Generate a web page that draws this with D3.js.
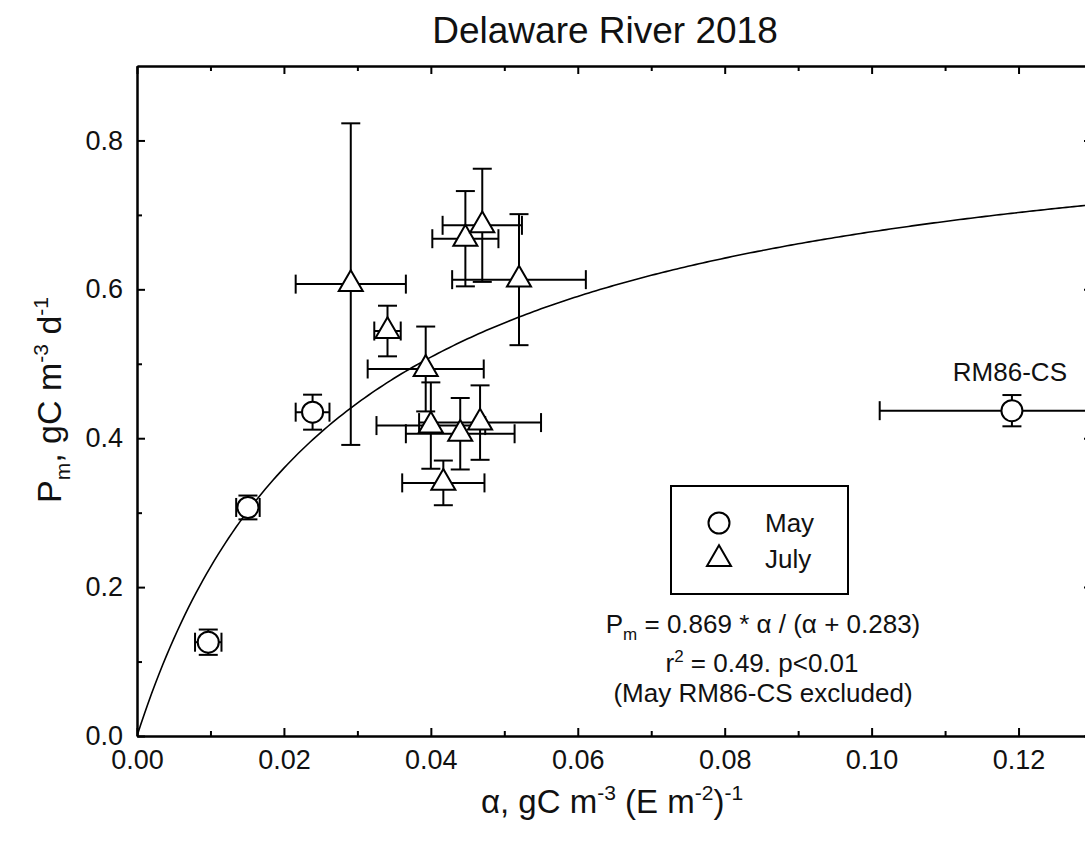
<!DOCTYPE html>
<html>
<head>
<meta charset="utf-8">
<title>Delaware River 2018</title>
<script src="https://cdn.jsdelivr.net/npm/d3@7"></script>
<style>
    body { margin: 0; background: #fff; }
    svg { display: block; }
    text { font-family: "Liberation Sans", Arial, sans-serif; fill: #111; }
    .axis path, .axis line { stroke: #000; stroke-width: 2; }
    .axis text { font-size: 27px; fill: #111; font-family: "Liberation Sans", Arial, sans-serif; }
</style>
</head>
<body>
<svg id="diagram" width="1085" height="845"></svg>
<script>
// May stations (last one is RM86-CS, left out of the fit)
var mayAlpha = [0.0097, 0.0151, 0.0239, 0.1191];
var mayAlphaErr = [0.0018, 0.0016, 0.0023, 0.018];
var mayPm = [0.126, 0.307, 0.435, 0.437];
var mayPmErr = [0.017, 0.016, 0.0235, 0.021];

// July stations
var julyAlpha = [0.0291, 0.0341, 0.0393, 0.0400, 0.0440, 0.0467, 0.0417, 0.0447, 0.0470, 0.0520];
var julyAlphaErr = [0.0075, 0.0018, 0.0079, 0.0074, 0.0074, 0.0083, 0.0056, 0.0045, 0.0054, 0.0091];
var julyPm = [0.607, 0.544, 0.493, 0.417, 0.406, 0.421, 0.340, 0.668, 0.686, 0.613];
var julyPmErr = [0.216, 0.034, 0.057, 0.058, 0.048, 0.050, 0.030, 0.064, 0.076, 0.088];

// fit line Pm = a * alpha / (alpha + k)
var fitA = 0.869;
var fitK = 0.0283;

var xTicks = [0, 0.02, 0.04, 0.06, 0.08, 0.10, 0.12];
var xMinorTicks = [0.01, 0.03, 0.05, 0.07, 0.09, 0.11];
var yTicks = [0, 0.2, 0.4, 0.6, 0.8];
var yMinorTicks = [0.1, 0.3, 0.5, 0.7];

var svg = d3.select("#diagram");
var plotLeft = 137, plotRight = 1092, plotTop = 66, plotBottom = 736;
var width = plotRight - plotLeft, height = plotBottom - plotTop;

var xScale = d3.scaleLinear().domain([0, 0.13]).range([0, width]);
var yScale = d3.scaleLinear().domain([0, 0.9]).range([height, 0]);

var g = svg.append("g").attr("transform", "translate(" + plotLeft + "," + plotTop + ")");

// title
svg.append("text")
    .attr("x", 605).attr("y", 43)
    .attr("text-anchor", "middle")
    .style("font-size", "37px")
    .text("Delaware River 2018");

// axes, ticks pointing inward
g.append("g").attr("class", "axis")
    .attr("transform", "translate(0," + height + ")")
    .call(d3.axisBottom(xScale).tickValues(xTicks).tickSize(-8).tickSizeOuter(0).tickPadding(14)
        .tickFormat(d3.format(".2f")));
g.append("g").attr("class", "axis")
    .attr("transform", "translate(0," + height + ")")
    .call(d3.axisBottom(xScale).tickValues(xMinorTicks).tickSize(-5).tickSizeOuter(0).tickFormat(""));
g.append("g").attr("class", "axis")
    .call(d3.axisTop(xScale).tickValues(xTicks).tickSize(-8).tickSizeOuter(0).tickFormat(""));
g.append("g").attr("class", "axis")
    .call(d3.axisTop(xScale).tickValues(xMinorTicks).tickSize(-5).tickSizeOuter(0).tickFormat(""));

g.append("g").attr("class", "axis")
    .call(d3.axisLeft(yScale).tickValues(yTicks).tickSize(-8).tickSizeOuter(0).tickPadding(14)
        .tickFormat(d3.format(".1f")));
g.append("g").attr("class", "axis")
    .call(d3.axisLeft(yScale).tickValues(yMinorTicks).tickSize(-5).tickSizeOuter(0).tickFormat(""));
g.append("g").attr("class", "axis")
    .attr("transform", "translate(" + width + ",0)")
    .call(d3.axisRight(yScale).tickValues(yTicks).tickSize(-8).tickSizeOuter(0).tickFormat(""));
g.append("g").attr("class", "axis")
    .attr("transform", "translate(" + width + ",0)")
    .call(d3.axisRight(yScale).tickValues(yMinorTicks).tickSize(-5).tickSizeOuter(0).tickFormat(""));

// axis titles
var xTitle = svg.append("text")
    .attr("x", 612).attr("y", 813)
    .attr("text-anchor", "middle")
    .style("font-size", "33px");
xTitle.append("tspan").text("α, gC m");
xTitle.append("tspan").attr("dy", -13).style("font-size", "21px").text("-3");
xTitle.append("tspan").attr("dy", 13).text(" (E m");
xTitle.append("tspan").attr("dy", -13).style("font-size", "21px").text("-2");
xTitle.append("tspan").attr("dy", 13).text(")");
xTitle.append("tspan").attr("dy", -13).style("font-size", "21px").text("-1");

var yTitle = svg.append("text")
    .attr("transform", "translate(61,400) rotate(-90)")
    .attr("text-anchor", "middle")
    .style("font-size", "34px");
yTitle.append("tspan").text("P");
yTitle.append("tspan").attr("dy", 9).style("font-size", "21px").text("m");
yTitle.append("tspan").attr("dy", -9).text(", gC m");
yTitle.append("tspan").attr("dy", -13).style("font-size", "21px").text("-3");
yTitle.append("tspan").attr("dy", 13).text(" d");
yTitle.append("tspan").attr("dy", -13).style("font-size", "21px").text("-1");

// plot content clipped to the frame
svg.append("clipPath").attr("id", "plotclip")
    .append("rect").attr("width", width).attr("height", height);
var plot = g.append("g").attr("clip-path", "url(#plotclip)");

// fit curve
var curvePoints = d3.range(0, 0.1301, 0.0005).map(function (a) {
    return [a, fitA * a / (a + fitK)];
});
plot.append("path")
    .datum(curvePoints)
    .attr("fill", "none")
    .attr("stroke", "#000")
    .attr("stroke-width", 1.6)
    .attr("d", d3.line().x(function (d) { return xScale(d[0]); }).y(function (d) { return yScale(d[1]); }));

var mayData = mayAlpha.map(function (a, i) {
    return {x: a, xe: mayAlphaErr[i], y: mayPm[i], ye: mayPmErr[i]};
});
var julyData = julyAlpha.map(function (a, i) {
    return {x: a, xe: julyAlphaErr[i], y: julyPm[i], ye: julyPmErr[i]};
});

var cap = 9.5;
function errorBars(sel, data) {
    var eb = sel.selectAll(null).data(data).enter().append("g")
        .attr("stroke", "#000").attr("stroke-width", 2);
    eb.append("line")
        .attr("x1", function (d) { return xScale(d.x - d.xe); })
        .attr("x2", function (d) { return xScale(d.x + d.xe); })
        .attr("y1", function (d) { return yScale(d.y); })
        .attr("y2", function (d) { return yScale(d.y); });
    eb.append("line")
        .attr("x1", function (d) { return xScale(d.x); })
        .attr("x2", function (d) { return xScale(d.x); })
        .attr("y1", function (d) { return yScale(d.y - d.ye); })
        .attr("y2", function (d) { return yScale(d.y + d.ye); });
    [-1, 1].forEach(function (s) {
        eb.append("line")
            .attr("x1", function (d) { return xScale(d.x + s * d.xe); })
            .attr("x2", function (d) { return xScale(d.x + s * d.xe); })
            .attr("y1", function (d) { return yScale(d.y) - cap; })
            .attr("y2", function (d) { return yScale(d.y) + cap; });
        eb.append("line")
            .attr("x1", function (d) { return xScale(d.x) - cap; })
            .attr("x2", function (d) { return xScale(d.x) + cap; })
            .attr("y1", function (d) { return yScale(d.y + s * d.ye); })
            .attr("y2", function (d) { return yScale(d.y + s * d.ye); });
    });
}
errorBars(plot, mayData);
errorBars(plot, julyData);

var circleSym = d3.symbol().type(d3.symbolCircle).size(Math.PI * 10.5 * 10.5);
var triangleSym = d3.symbol().type(d3.symbolTriangle).size(250);

plot.selectAll(".may").data(mayData).enter().append("path")
    .attr("class", "may")
    .attr("d", circleSym)
    .attr("transform", function (d) { return "translate(" + xScale(d.x) + "," + yScale(d.y) + ")"; })
    .attr("fill", "#fff").attr("stroke", "#000").attr("stroke-width", 2);

plot.selectAll(".july").data(julyData).enter().append("path")
    .attr("class", "july")
    .attr("d", triangleSym)
    .attr("transform", function (d) { return "translate(" + xScale(d.x) + "," + yScale(d.y) + ")"; })
    .attr("fill", "#fff").attr("stroke", "#000").attr("stroke-width", 2);

// station label for the excluded point
g.append("text")
    .attr("x", xScale(mayAlpha[3]) - 2)
    .attr("y", yScale(mayPm[3]) - 30)
    .attr("text-anchor", "middle")
    .style("font-size", "26px")
    .text("RM86-CS");

// legend
var legend = svg.append("g").attr("transform", "translate(671,486)");
legend.append("rect")
    .attr("width", 177).attr("height", 108)
    .attr("fill", "#fff").attr("stroke", "#000").attr("stroke-width", 2);
legend.append("path").attr("d", circleSym).attr("transform", "translate(48,37)")
    .attr("fill", "#fff").attr("stroke", "#000").attr("stroke-width", 2);
legend.append("path").attr("d", triangleSym).attr("transform", "translate(48,73)")
    .attr("fill", "#fff").attr("stroke", "#000").attr("stroke-width", 2);
legend.append("text").attr("x", 94).attr("y", 46).style("font-size", "26px").text("May");
legend.append("text").attr("x", 94).attr("y", 82).style("font-size", "26px").text("July");

// fit annotation
var eq = svg.append("text")
    .attr("x", 763).attr("y", 633)
    .attr("text-anchor", "middle")
    .style("font-size", "26px");
eq.append("tspan").text("P");
eq.append("tspan").attr("dy", 7).style("font-size", "17px").text("m");
eq.append("tspan").attr("dy", -7).text(" = 0.869 * α / (α + 0.283)");

var r2 = svg.append("text")
    .attr("x", 762).attr("y", 672)
    .attr("text-anchor", "middle")
    .style("font-size", "26px");
r2.append("tspan").text("r");
r2.append("tspan").attr("dy", -10).style("font-size", "17px").text("2");
r2.append("tspan").attr("dy", 10).text(" = 0.49. p<0.01");

svg.append("text")
    .attr("x", 763).attr("y", 702)
    .attr("text-anchor", "middle")
    .style("font-size", "26px")
    .text("(May RM86-CS excluded)");
</script>
</body>
</html>
